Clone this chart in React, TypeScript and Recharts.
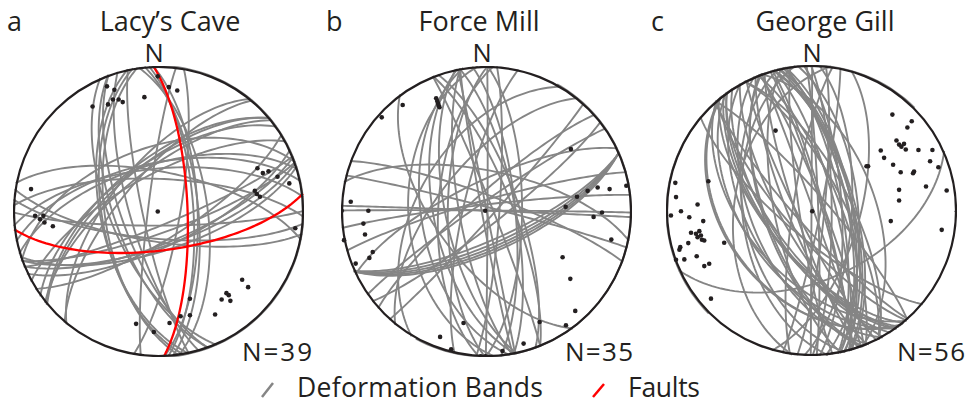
import { ScatterChart, Scatter, XAxis, YAxis, ReferenceDot } from "recharts";

// poles to planes (x = east, y = north, unit radius)
const lacysBands: [number, number][] = [
  [-0.005, 0.929], [0.071, 0.855], [0.129, 0.832], [-0.354, 0.86], [-0.303, 0.837],
  [-0.453, 0.722], [-0.347, 0.736], [-0.313, 0.77], [-0.274, 0.77], [-0.246, 0.752],
  [-0.005, 0.0], [-0.876, 0.154], [-0.814, -0.053], [-0.791, -0.03], [-0.784, -0.076],
  [-0.726, -0.101], [0.68, 0.297], [0.717, 0.264], [0.756, 0.276], [0.818, 0.239],
  [0.899, 0.193], [0.662, 0.143], [0.676, 0.12], [0.697, 0.101], [0.94, -0.115],
  [0.575, -0.469], [0.616, -0.52], [0.467, -0.561], [0.483, -0.575], [0.434, -0.605],
  [0.494, -0.614], [0.389, -0.708], [0.216, -0.6], [0.216, -0.713], [0.152, -0.72],
  [0.076, -0.766], [-0.032, -0.828], [-0.154, -0.772],
];
const lacysFaults: [number, number][] = [
  [-0.848, -0.03], [-0.097, 0.786],
];
const forceBands: [number, number][] = [
  [-0.576, 0.732], [-0.72, 0.647], [-0.346, 0.778], [-0.339, 0.759], [-0.333, 0.743],
  [-0.328, 0.729], [-0.323, 0.716], [0.58, 0.429], [0.764, 0.165], [0.846, 0.154],
  [0.961, 0.177], [0.695, 0.142], [0.622, 0.101], [0.544, 0.032], [0.736, -0.037],
  [0.794, -0.007], [0.858, -0.193], [-0.933, 0.067], [-0.812, 0.005], [-0.846, -0.083],
  [-0.835, -0.158], [-0.782, -0.278], [-0.805, -0.319], [-0.899, -0.358], [-0.979, -0.197],
  [-0.995, 0.005], [-0.009, 0.005], [0.523, -0.314], [0.576, -0.463], [0.61, -0.683],
  [0.546, -0.782], [0.365, -0.759], [-0.158, -0.766], [-0.319, -0.862], [-0.243, -0.947],
  [-0.039, -0.995], [-0.007, -0.995], [0.11, -0.959], [0.255, -0.908],
];
const georgeBands: [number, number][] = [
  [0.556, 0.659], [0.689, 0.613], [0.659, 0.57], [0.584, 0.481], [0.602, 0.453],
  [0.618, 0.439], [0.636, 0.458], [0.648, 0.419], [0.476, 0.412], [0.499, 0.362],
  [0.561, 0.314], [0.613, 0.263], [0.705, 0.268], [0.698, 0.256], [0.735, 0.416],
  [0.831, 0.416], [0.815, 0.339], [0.872, 0.297], [0.787, 0.165], [0.602, 0.142],
  [0.602, 0.069], [0.929, 0.137], [0.545, -0.073], [0.895, -0.133], [0.378, 0.304],
  [0.389, 0.304],
  [-0.936, 0.19], [-0.931, 0.092], [-0.897, -0.005], [-0.966, -0.034], [-0.84, -0.046],
  [-0.783, 0.041], [-0.744, -0.073], [-0.828, -0.153], [-0.794, -0.16], [-0.783, -0.183],
  [-0.771, -0.142], [-0.76, -0.172], [-0.753, -0.201], [-0.737, -0.206], [-0.847, -0.224],
  [-0.902, -0.252], [-0.908, -0.27], [-0.789, -0.314], [-0.874, -0.336], [-0.737, -0.382],
  [-0.703, -0.366], [-0.931, -0.339], [-0.6, -0.222], [-0.691, -0.606],
  [-0.247, 0.549], [-0.709, 0.201], [0.005, -0.005], [1.0, -0.005],
];

const sites = [
  { letter: "a", name: "Lacy’s Cave", n: 39, bands: lacysBands, faults: lacysFaults, cx: 158, cy: 211 },
  { letter: "b", name: "Force Mill", n: 35, bands: forceBands, faults: [], cx: 486.5, cy: 211.5 },
  { letter: "c", name: "George Gill", n: 56, bands: georgeBands, faults: [], cx: 811, cy: 210 },
];

const R = 145.5;
const GREY = "#858585";
const RED = "#ff0000";
const INK = "#231f20";
const FONT = "'Open Sans', sans-serif";

// great circle of the plane whose pole plots at p (lower hemisphere, equal area)
function greatCircle(p: [number, number]) {
  const [px, py] = p;
  const r2 = px * px + py * py;
  const k = Math.sqrt(Math.max(0, 2 - r2));
  const a = px * k, b = py * k, c = r2 - 1;
  const T = Math.atan2(px, py);
  const s = [Math.cos(T), -Math.sin(T), 0];
  const u = [-c * s[1], c * s[0], a * s[1] - b * s[0]];
  const len = Math.hypot(u[0], u[1], u[2]) || 1;
  const pts: { x: number; y: number }[] = [];
  const steps = 72;
  for (let i = 0; i <= steps; i++) {
    const t = (Math.PI * i) / steps;
    const e = Math.cos(t) * s[0] + (Math.sin(t) * u[0]) / len;
    const nn = Math.cos(t) * s[1] + (Math.sin(t) * u[1]) / len;
    const z = Math.min(0, (Math.sin(t) * u[2]) / len);
    const f = 1 / Math.sqrt(1 - z);
    pts.push({ x: e * f, y: nn * f });
  }
  return pts;
}

const noShape = () => <g />;

function Net({ bands, faults }: { bands: [number, number][]; faults: [number, number][] }) {
  const poles = [...bands, ...faults].map(([x, y]) => ({ x, y }));
  return (
    <ScatterChart width={2 * R} height={2 * R} margin={{ top: 0, right: 0, bottom: 0, left: 0 }}>
      <XAxis type="number" dataKey="x" domain={[-1, 1]} hide />
      <YAxis type="number" dataKey="y" domain={[-1, 1]} hide />
      {bands.map((p, i) => (
        <Scatter
          key={"b" + i}
          data={greatCircle(p)}
          line={{ stroke: GREY, strokeWidth: 1.9 }}
          shape={noShape}
          isAnimationActive={false}
        />
      ))}
      {faults.map((p, i) => (
        <Scatter
          key={"f" + i}
          data={greatCircle(p)}
          line={{ stroke: RED, strokeWidth: 2.3 }}
          shape={noShape}
          isAnimationActive={false}
        />
      ))}
      <Scatter
        data={poles}
        shape={(props: any) => <circle cx={props.cx} cy={props.cy} r={2.3} fill={INK} />}
        isAnimationActive={false}
      />
      <ReferenceDot x={0} y={0} r={R - 1} fill="none" stroke={INK} strokeWidth={2.2} />
    </ScatterChart>
  );
}

export default function App() {
  return (
    <div style={{ position: "absolute", left: 0, top: 0, width: 971, height: 404, background: "#fff" }}>
      {sites.map((s) => (
        <div key={s.letter} style={{ position: "absolute", left: s.cx - R, top: s.cy - R }}>
          <Net bands={s.bands} faults={s.faults} />
        </div>
      ))}
      <svg
        width={971}
        height={404}
        style={{ position: "absolute", left: 0, top: 0, pointerEvents: "none" }}
        fontFamily={FONT}
        fill="#231f20"
      >
        <text x={7} y={31} fontSize={27}>a</text>
        <text x={170} y={31} fontSize={27} textAnchor="middle">Lacy’s Cave</text>
        <text x={326} y={31} fontSize={27}>b</text>
        <text x={479} y={31} fontSize={27} textAnchor="middle">Force Mill</text>
        <text x={651} y={31} fontSize={27}>c</text>
        <text x={825} y={31} fontSize={27} textAnchor="middle">George Gill</text>
        <text x={154} y={62} fontSize={25.5} textAnchor="middle">N</text>
        <text x={482} y={62} fontSize={25.5} textAnchor="middle">N</text>
        <text x={812} y={62} fontSize={25.5} textAnchor="middle">N</text>
        <text x={242} y={361} fontSize={26} textLength={70}>N=39</text>
        <text x={565} y={361} fontSize={26} textLength={68}>N=35</text>
        <text x={897} y={361} fontSize={26} textLength={68}>N=56</text>
        <line x1={262} y1={397} x2={273} y2={383} stroke={GREY} strokeWidth={2.5} />
        <text x={297} y={397} fontSize={26.5} textLength={246}>Deformation Bands</text>
        <line x1={593} y1={397} x2={604} y2={384} stroke={RED} strokeWidth={2.5} />
        <text x={628} y={397} fontSize={26.5} textLength={72}>Faults</text>
      </svg>
    </div>
  );
}
